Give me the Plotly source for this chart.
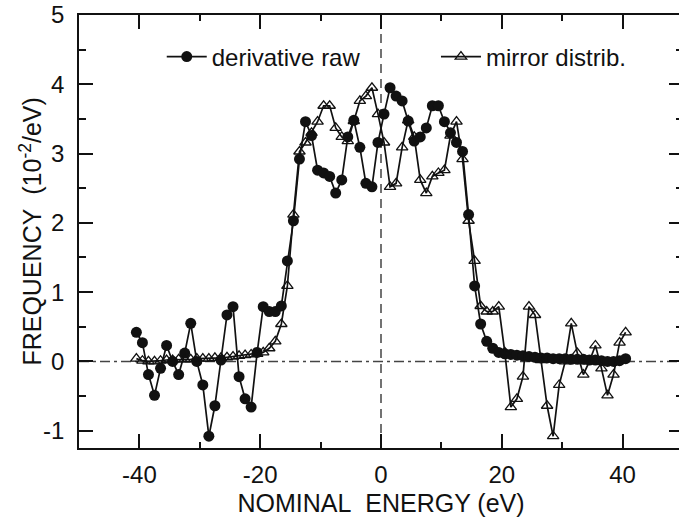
import plotly.graph_objects as go

energy = [-40.5, -39.5, -38.5, -37.5, -36.5, -35.5, -34.5, -33.5, -32.5, -31.5,
          -30.5, -29.5, -28.5, -27.5, -26.5, -25.5, -24.5, -23.5, -22.5, -21.5,
          -20.5, -19.5, -18.5, -17.5, -16.5, -15.5, -14.5, -13.5, -12.5, -11.5,
          -10.5, -9.5, -8.5, -7.5, -6.5, -5.5, -4.5, -3.5, -2.5, -1.5,
          -0.5, 0.5, 1.5, 2.5, 3.5, 4.5, 5.5, 6.5, 7.5, 8.5,
          9.5, 10.5, 11.5, 12.5, 13.5, 14.5, 15.5, 16.5, 17.5, 18.5,
          19.5, 20.5, 21.5, 22.5, 23.5, 24.5, 25.5, 26.5, 27.5, 28.5,
          29.5, 30.5, 31.5, 32.5, 33.5, 34.5, 35.5, 36.5, 37.5, 38.5,
          39.5, 40.5]

derivative_raw = [0.42, 0.27, -0.19, -0.49, -0.10, 0.23, 0.00, -0.19, 0.12, 0.55,
                  0.00, -0.34, -1.08, -0.64, 0.02, 0.67, 0.79, -0.22, -0.54, -0.66,
                  0.13, 0.79, 0.72, 0.72, 0.80, 1.45, 2.03, 2.92, 3.46, 3.26,
                  2.76, 2.72, 2.67, 2.43, 2.62, 3.24, 3.48, 3.09, 2.57, 2.52,
                  3.16, 3.57, 3.95, 3.83, 3.76, 3.47, 3.18, 3.24, 3.37, 3.69,
                  3.69, 3.46, 3.30, 3.16, 3.03, 2.12, 1.09, 0.54, 0.29, 0.19,
                  0.13, 0.11, 0.10, 0.09, 0.08, 0.07, 0.06, 0.05, 0.05, 0.04,
                  0.04, 0.04, 0.03, 0.03, 0.03, 0.02, 0.02, 0.01, 0.00, 0.00,
                  0.01, 0.04]

mirror_distrib = [0.04, 0.01, 0.00, 0.00, 0.01, 0.02, 0.02, 0.03, 0.03, 0.03,
                  0.04, 0.04, 0.04, 0.05, 0.05, 0.06, 0.07, 0.08, 0.09, 0.10,
                  0.11, 0.13, 0.19, 0.29, 0.54, 1.09, 2.12, 3.03, 3.16, 3.30,
                  3.46, 3.69, 3.69, 3.37, 3.24, 3.18, 3.47, 3.76, 3.83, 3.95,
                  3.57, 3.16, 2.52, 2.57, 3.09, 3.48, 3.24, 2.62, 2.43, 2.67,
                  2.72, 2.76, 3.26, 3.46, 2.92, 2.03, 1.45, 0.80, 0.72, 0.72,
                  0.79, 0.13, -0.66, -0.54, -0.22, 0.79, 0.67, 0.02, -0.64, -1.08,
                  -0.34, 0.00, 0.55, 0.12, -0.19, 0.00, 0.23, -0.10, -0.49, -0.19,
                  0.27, 0.42]

x_ticks = [-40, -20, 0, 20, 40]
x_tick_text = ["-40", "-20", "0", "20", "40"]
y_ticks = [-1, 0, 1, 2, 3, 4, 5]
y_tick_text = ["-1", "0", "1", "2", "3", "4", "5"]

FONT = "Liberation Sans, Arial, sans-serif"
INK = "#111111"

fig = go.Figure()

fig.add_hline(y=0, line=dict(color="#444444", width=1.5, dash="10px,4px,3px,4px"), layer="below")
fig.add_vline(x=0, line=dict(color="#444444", width=1.5, dash="9px,6px"), layer="below")

fig.add_trace(go.Scatter(
    x=energy, y=derivative_raw, name="derivative raw", mode="lines+markers",
    line=dict(color=INK, width=1.7), legend="legend",
    marker=dict(symbol="circle", size=11, color=INK, line=dict(color=INK, width=0)),
))
fig.add_trace(go.Scatter(
    x=energy, y=mirror_distrib, name="mirror distrib.", mode="lines+markers",
    line=dict(color=INK, width=1.7), legend="legend2",
    marker=dict(symbol="triangle-up-open", size=10, color=INK, line=dict(width=1.3)),
))

legend_common = dict(orientation="h", y=0.903, xanchor="left", yanchor="middle",
                     bgcolor="rgba(0,0,0,0)", font=dict(size=24), itemwidth=40)

fig.update_layout(
    width=686, height=521,
    margin=dict(l=79, r=1, t=14, b=73),
    paper_bgcolor="white", plot_bgcolor="white",
    font=dict(family=FONT, size=24, color=INK),
    showlegend=True,
    legend=dict(x=0.137, **legend_common),
    legend2=dict(x=0.591, **legend_common),
    xaxis=dict(range=[-50, 50], tickvals=x_ticks, ticktext=x_tick_text, ticks="inside", ticklen=14,
               tickwidth=1.5, tickcolor=INK, showline=True, linecolor=INK, linewidth=1.5, mirror="ticks",
               showgrid=False, zeroline=False,
               minor=dict(dtick=10, tick0=0, ticks="inside", ticklen=6, tickwidth=1.5, tickcolor=INK),
               ticklabelstandoff=4,
               title=dict(text="NOMINAL&nbsp;&nbsp;ENERGY (eV)", font=dict(size=25), standoff=8)),
    yaxis=dict(range=[-1.25, 5], tickvals=y_ticks, ticktext=y_tick_text, ticks="inside", ticklen=14,
               tickwidth=1.5, tickcolor=INK, showline=True, linecolor=INK, linewidth=1.5, mirror="ticks",
               showgrid=False, zeroline=False,
               minor=dict(dtick=0.5, tick0=0, ticks="inside", ticklen=7, tickwidth=1.5, tickcolor=INK),
               ticklabelstandoff=8),
    annotations=[dict(text="FREQUENCY&nbsp;&nbsp;(10<sup>-2</sup>/eV)", xref="paper", yref="paper",
                      x=-0.081, y=0.5, xanchor="center", yanchor="middle", textangle=-90,
                      showarrow=False, font=dict(size=25, family=FONT, color=INK))],
)

fig.write_html("out.html", config={"displayModeBar": False},
               post_script="document.body.style.margin='0';document.body.style.overflow='hidden';")
